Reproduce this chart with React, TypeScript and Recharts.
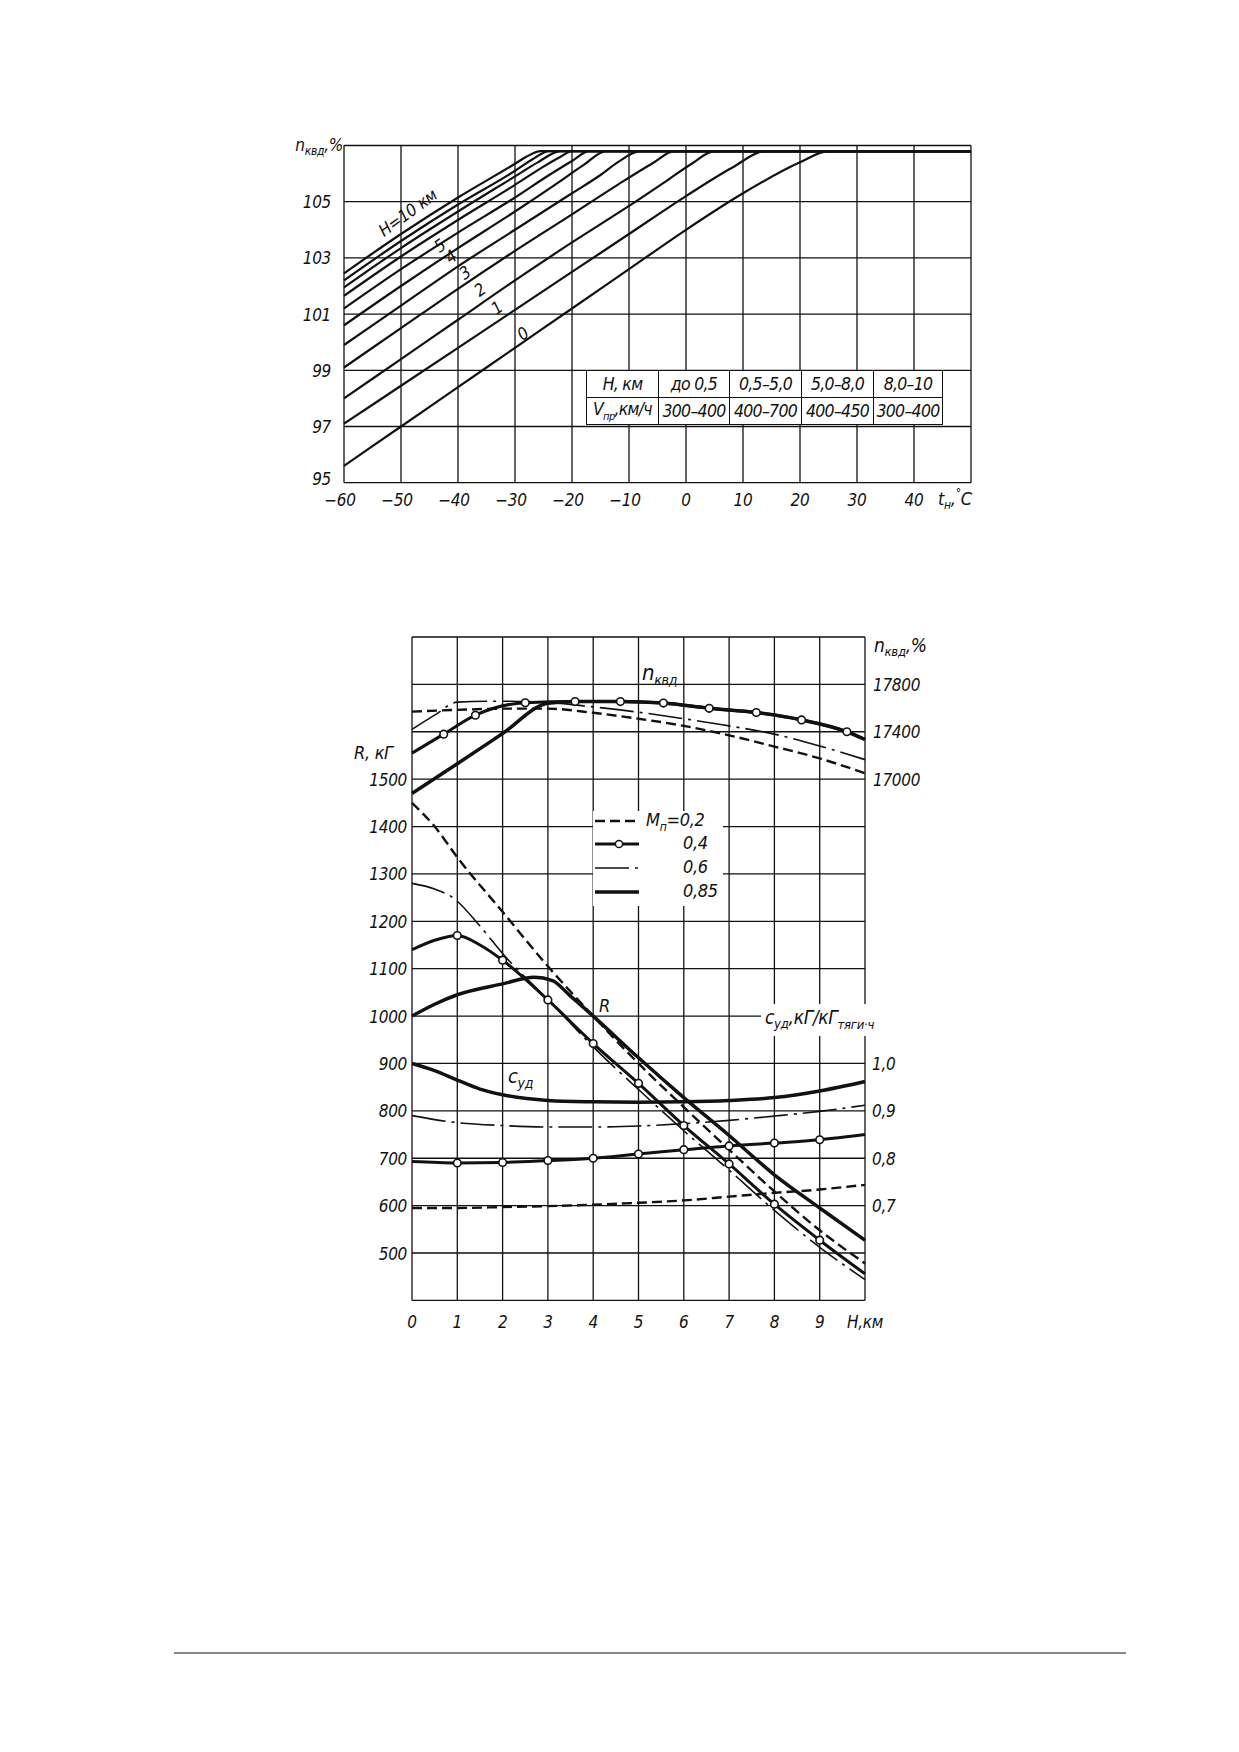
import React from "react";
import { LineChart, Line, XAxis, YAxis, CartesianGrid } from "recharts";

const FONT = "'DejaVu Sans Condensed', 'DejaVu Sans', sans-serif";
const INK = "#111";

// ---- upper chart: n_kvd vs outside air temperature, one curve per altitude ----
const TEMP_TICKS = [-60, -50, -40, -30, -20, -10, 0, 10, 20, 30, 40, 50];
const NKVD_TICKS = [95, 97, 99, 101, 103, 105, 107];

const H0 = [[-60, 95.6], [-50, 97.0], [-40, 98.4], [-30, 99.8], [-20, 101.2], [-10, 102.6], [0, 104.0], [10, 105.3], [20, 106.4], [25, 106.8], [50, 106.8]];
const H1 = [[-60, 97.1], [-50, 98.45], [-40, 99.8], [-30, 101.15], [-20, 102.5], [-10, 103.85], [0, 105.2], [8, 106.2], [14, 106.8], [50, 106.8]];
const H2 = [[-60, 98.0], [-50, 99.4], [-40, 100.8], [-30, 102.2], [-20, 103.55], [-10, 104.85], [-3, 105.8], [1, 106.35], [5, 106.8], [50, 106.8]];
const H3 = [[-60, 99.1], [-50, 100.5], [-40, 101.9], [-30, 103.25], [-20, 104.55], [-12, 105.6], [-6, 106.35], [-2, 106.8], [50, 106.8]];
const H4 = [[-60, 99.9], [-50, 101.3], [-40, 102.7], [-30, 104.0], [-20, 105.3], [-15, 105.95], [-12, 106.4], [-8, 106.8], [50, 106.8]];
const H5 = [[-60, 100.6], [-50, 102.0], [-40, 103.35], [-30, 104.65], [-23, 105.6], [-18, 106.3], [-14, 106.8], [50, 106.8]];
const H6 = [[-60, 101.2], [-50, 102.6], [-40, 103.9], [-30, 105.15], [-24, 105.95], [-20, 106.45], [-17, 106.8], [50, 106.8]];
const H7 = [[-60, 101.65], [-50, 103.05], [-40, 104.35], [-30, 105.6], [-25, 106.25], [-22, 106.6], [-20, 106.8], [50, 106.8]];
const H8 = [[-60, 101.95], [-50, 103.35], [-40, 104.65], [-30, 105.9], [-26, 106.4], [-22, 106.8], [50, 106.8]];
const H9 = [[-60, 102.2], [-50, 103.6], [-40, 104.9], [-30, 106.1], [-27, 106.5], [-24, 106.8], [50, 106.8]];
const H10 = [[-60, 102.45], [-50, 103.85], [-40, 105.15], [-30, 106.35], [-28, 106.6], [-25.5, 106.8], [50, 106.8]];
const ALT_CURVES = [H0, H1, H2, H3, H4, H5, H6, H7, H8, H9, H10];

const TABLE_H = ["H, км", "до 0,5", "0,5–5,0", "5,0–8,0", "8,0–10"];
const TABLE_V = ["300–400", "400–700", "400–450", "300–400"];

// ---- lower chart: altitude characteristics for several flight Mach numbers ----
const ALT_TICKS = [0, 1, 2, 3, 4, 5, 6, 7, 8, 9, 10];
const R_TICKS = [400, 500, 600, 700, 800, 900, 1000, 1100, 1200, 1300, 1400, 1500, 1600, 1700, 1800];
const N_TICKS = [17000, 17400, 17800, 18200];
const C_TICKS = [0.7, 0.8, 0.9, 1.0, 1.1];

const R_M02 = [[0, 1450], [0.5, 1400], [1, 1335], [2, 1220], [3, 1105], [4, 1000], [5, 900], [6, 808], [7, 718], [8, 630], [9, 548], [10, 478]];
const R_M04 = [[0, 1140], [0.5, 1160], [1, 1170], [1.5, 1150], [2, 1118], [3, 1034], [4, 942], [5, 858], [6, 769], [7, 688], [8, 603], [9, 527], [10, 456]];
const R_M06 = [[0, 1280], [0.5, 1268], [0.9, 1250], [1.5, 1190], [2, 1132], [3, 1035], [4, 935], [5, 845], [6, 758], [7, 675], [8, 590], [9, 512], [10, 444]];
const R_M085 = [[0, 1000], [0.5, 1025], [1, 1045], [2, 1068], [2.7, 1082], [3.1, 1075], [3.5, 1042], [4, 1000], [5, 912], [6, 828], [7, 748], [8, 665], [9, 595], [10, 527]];

const N_M02 = [[0, 17570], [1, 17585], [2, 17595], [3, 17595], [4, 17560], [5, 17510], [6, 17450], [7, 17370], [8, 17275], [9, 17175], [10, 17050]];
const N_M04 = [[0, 17220], [0.7, 17380], [1.4, 17540], [2.5, 17645], [3.6, 17655], [4.6, 17655], [5.55, 17642], [6.56, 17598], [7.6, 17562], [8.6, 17500], [9.6, 17400], [10, 17335]];
const N_M06 = [[0, 17420], [0.5, 17540], [1, 17650], [2, 17658], [3, 17648], [4, 17610], [5, 17565], [6, 17510], [7, 17450], [8, 17380], [9, 17280], [10, 17165]];
const N_M085 = [[0, 16880], [1, 17130], [2, 17385], [3, 17640], [3.6, 17655], [4.6, 17655], [5.55, 17642], [6.56, 17598], [7.6, 17562], [8.6, 17500], [9.6, 17400], [10, 17335]];

const C_M02 = [[0, 0.695], [1, 0.695], [2, 0.697], [3, 0.699], [4, 0.702], [5, 0.706], [6, 0.711], [7, 0.719], [8, 0.727], [9, 0.734], [10, 0.744]];
const C_M04 = [[0, 0.793], [1, 0.79], [2, 0.791], [3, 0.795], [4, 0.8], [5, 0.809], [6, 0.818], [7, 0.826], [8, 0.832], [9, 0.839], [10, 0.85]];
const C_M06 = [[0, 0.89], [1, 0.875], [2, 0.869], [3, 0.866], [4, 0.866], [5, 0.868], [6, 0.873], [7, 0.88], [8, 0.889], [9, 0.899], [10, 0.912]];
const C_M085 = [[0, 1.0], [0.5, 0.985], [1, 0.965], [1.5, 0.946], [2, 0.934], [3, 0.922], [4, 0.919], [5, 0.918], [6, 0.919], [7, 0.922], [8, 0.928], [9, 0.942], [10, 0.962]];

const MACH = [
  { label: "0,85", R: R_M085, n: N_M085, c: C_M085, width: 3.5, dash: undefined, marks: false },
  { label: "0,6", R: R_M06, n: N_M06, c: C_M06, width: 1.6, dash: "34 6 3 6", marks: false },
  { label: "0,2", R: R_M02, n: N_M02, c: C_M02, width: 2.4, dash: "10 5", marks: false },
  { label: "0,4", R: R_M04, n: N_M04, c: C_M04, width: 3.0, dash: undefined, marks: true },
];

const pts = (pairs: number[][]) => pairs.map(([x, v]) => ({ x, v }));

const txt = { fontFamily: FONT, fontStyle: "italic", fontStretch: "condensed", fill: INK, letterSpacing: -0.3 } as const;

// open circles on the M=0,4 curves
function markDot(integerOnly: boolean, count: number) {
  return (p: any) => {
    const h = p.payload.x;
    const show = integerOnly ? Number.isInteger(h) && h > 0 && h < 10 : p.index > 0 && p.index < count - 1;
    if (!show) return <g key={p.index} />;
    return <circle key={p.index} cx={p.cx} cy={p.cy} r={3.8} fill="#fff" stroke={INK} strokeWidth={1.6} />;
  };
}

function TopXTick(props: any) {
  const { x, y, payload } = props;
  const v = payload.value as number;
  if (v === 50) {
    return (
      <text x={x - 33} y={y + 22} fontSize={18} {...txt}>
        t<tspan fontSize={12} dy={4}>н</tspan><tspan dy={-4}>,</tspan>
        <tspan fontSize={12} dy={-8}>°</tspan><tspan dy={8}>C</tspan>
      </text>
    );
  }
  return (
    <text x={x + (v < 0 ? -4 : 0)} y={y + 23} textAnchor="middle" fontSize={17} {...txt}>
      {v < 0 ? `−${-v}` : v}
    </text>
  );
}

function TopYTick(props: any) {
  const { x, y, payload } = props;
  const v = payload.value as number;
  if (v === 107) {
    return (
      <text x={x - 1} y={y + 5} textAnchor="end" fontSize={17} {...txt}>
        n<tspan fontSize={12} dy={4}>квд</tspan><tspan dy={-4}>,%</tspan>
      </text>
    );
  }
  return <text x={x - 13} y={y + (v === 95 ? 2 : 6.5)} textAnchor="end" fontSize={17} {...txt}>{v}</text>;
}

function AltTick(props: any) {
  const { x, y, payload } = props;
  const v = payload.value as number;
  return (
    <text x={x} y={y + 28} textAnchor="middle" fontSize={17} {...txt}>
      {v === 10 ? "H,км" : v}
    </text>
  );
}

function RTick(props: any) {
  const { x, y, payload } = props;
  const v = payload.value as number;
  if (v < 500 || v > 1500) return <g />;
  return <text x={x - 5} y={y + 6.5} textAnchor="end" fontSize={17} {...txt}>{v}</text>;
}

function NTick(props: any) {
  const { x, y, payload } = props;
  const v = payload.value as number;
  if (v === 18200) {
    return (
      <text x={x + 8} y={y + 15} fontSize={19} {...txt}>
        n<tspan fontSize={13} dy={4}>квд</tspan><tspan dy={-4}>,%</tspan>
      </text>
    );
  }
  return <text x={x + 7} y={y + 6.5} fontSize={17} {...txt}>{v}</text>;
}

function CTick(props: any) {
  const { x, y, payload } = props;
  const v = payload.value as number;
  if (v > 1.05) {
    return (
      <g>
        <rect x={x - 104} y={y - 12} width={220} height={32} fill="#fff" />
        <text x={x - 100} y={y + 8} fontSize={19} {...txt}>
          c<tspan fontSize={13} dy={4}>уд</tspan><tspan dy={-4}>,кГ/кГ</tspan>
          <tspan fontSize={13} dy={5}>тяги·ч</tspan>
        </text>
      </g>
    );
  }
  return <text x={x + 7} y={y + 6.5} fontSize={17} {...txt}>{v.toFixed(1).replace(".", ",")}</text>;
}

function TopChart() {
  return (
    <LineChart width={1239} height={560} margin={{ top: 145.5, right: 268, bottom: 76.3, left: 343 }}>
      <CartesianGrid stroke={INK} strokeWidth={1.3} xAxisId="t" yAxisId="n" />
      <XAxis xAxisId="t" dataKey="x" type="number" domain={[-60, 50]} ticks={TEMP_TICKS} interval={0}
        height={1} tickSize={0} tickMargin={0} axisLine={false} tick={(p: any) => <TopXTick {...p} />} />
      <YAxis yAxisId="n" type="number" domain={[95, 107]} ticks={NKVD_TICKS} interval={0}
        width={1} tickSize={0} tickMargin={0} axisLine={false} tick={(p: any) => <TopYTick {...p} />} />
      {ALT_CURVES.map((c, i) => (
        <Line key={i} xAxisId="t" yAxisId="n" data={pts(c)} dataKey="v" type="monotone"
          stroke={INK} strokeWidth={2.2} dot={false} isAnimationActive={false} />
      ))}
    </LineChart>
  );
}

function BottomChart() {
  return (
    <LineChart width={1239} height={820} margin={{ top: 77, right: 372, bottom: 78.6, left: 411 }}>
      <CartesianGrid stroke={INK} strokeWidth={1.3} xAxisId="h" yAxisId="R" />
      <XAxis xAxisId="h" dataKey="x" type="number" domain={[0, 10]} ticks={ALT_TICKS} interval={0}
        height={1} tickSize={0} tickMargin={0} axisLine={false} tick={(p: any) => <AltTick {...p} />} />
      <YAxis yAxisId="R" type="number" domain={[400, 1800]} ticks={R_TICKS} interval={0}
        width={1} tickSize={0} tickMargin={0} axisLine={false} tick={(p: any) => <RTick {...p} />} />
      <YAxis yAxisId="n" orientation="right" type="number" domain={[12600, 18200]} ticks={N_TICKS} interval={0}
        width={1} tickSize={0} tickMargin={0} axisLine={false} tick={(p: any) => <NTick {...p} />} />
      <YAxis yAxisId="c" orientation="right" type="number" domain={[0.5, 1.9]} ticks={C_TICKS} interval={0}
        width={1} tickSize={0} tickMargin={0} axisLine={false} tick={(p: any) => <CTick {...p} />} />
      {MACH.flatMap((m) => [
        <Line key={`R${m.label}`} xAxisId="h" yAxisId="R" data={pts(m.R)} dataKey="v" type="monotone"
          stroke={INK} strokeWidth={m.width} strokeDasharray={m.dash}
          dot={m.marks ? markDot(true, m.R.length) : false} isAnimationActive={false} />,
        <Line key={`n${m.label}`} xAxisId="h" yAxisId="n" data={pts(m.n)} dataKey="v" type="monotone"
          stroke={INK} strokeWidth={m.width} strokeDasharray={m.dash}
          dot={m.marks ? markDot(false, m.n.length) : false} isAnimationActive={false} />,
        <Line key={`c${m.label}`} xAxisId="h" yAxisId="c" data={pts(m.c)} dataKey="v" type="monotone"
          stroke={INK} strokeWidth={m.width} strokeDasharray={m.dash}
          dot={m.marks ? markDot(true, m.c.length) : false} isAnimationActive={false} />,
      ])}
    </LineChart>
  );
}

const abs = (left: number, top: number): React.CSSProperties => ({
  position: "absolute", left, top, fontFamily: FONT, fontStyle: "italic", fontStretch: "condensed",
  color: INK, lineHeight: 1, whiteSpace: "nowrap", letterSpacing: -0.3,
});

const CURVE_LABELS = [
  { text: "H=10 км", x: 408, y: 213 },
  { text: "5", x: 440, y: 246 },
  { text: "4", x: 451, y: 257 },
  { text: "3", x: 465, y: 273 },
  { text: "2", x: 480, y: 290 },
  { text: "1", x: 497, y: 308 },
  { text: "0", x: 523, y: 334 },
];

function LegendSample({ dash, width, marks }: { dash?: string; width: number; marks: boolean }) {
  return (
    <svg width={48} height={14} style={{ position: "absolute", left: 0, top: -7 }}>
      <line x1={2} y1={7} x2={46} y2={7} stroke={INK} strokeWidth={width} strokeDasharray={dash} />
      {marks && <circle cx={26} cy={7} r={3.6} fill="#fff" stroke={INK} strokeWidth={1.5} />}
    </svg>
  );
}

const LEGEND_ORDER = ["0,2", "0,4", "0,6", "0,85"];
const LEGEND_ROWS = [10, 33, 57, 81];

export default function App() {
  const cell: React.CSSProperties = {
    border: `1.4px solid ${INK}`, padding: 0, textAlign: "center", height: 26, fontSize: 17.5,
    whiteSpace: "nowrap", overflow: "hidden", letterSpacing: -0.7,
  };
  return (
    <div style={{ position: "absolute", left: 0, top: 0, width: 1239, height: 1752, background: "#fff" }}>
      <div style={{ position: "absolute", left: 0, top: 0 }}>
        <TopChart />
      </div>

      {CURVE_LABELS.map((l) => (
        <div key={l.text} style={{ ...abs(l.x, l.y), fontSize: 17, transform: "translate(-50%, -50%) rotate(-36deg)" }}>
          {l.text}
        </div>
      ))}

      <table style={{ position: "absolute", left: 586, top: 370, width: 356, tableLayout: "fixed", borderCollapse: "collapse",
        background: "#fff", fontFamily: FONT, fontStyle: "italic", fontStretch: "condensed", color: INK }}>
        <colgroup>
          <col style={{ width: 72 }} />
          <col style={{ width: 71 }} />
          <col style={{ width: 72 }} />
          <col style={{ width: 72 }} />
          <col style={{ width: 69 }} />
        </colgroup>
        <tbody>
          <tr>
            {TABLE_H.map((t, i) => (
              <td key={i} style={cell}>{t}</td>
            ))}
          </tr>
          <tr>
            <td style={cell}>V<sub style={{ fontSize: 11 }}>пр</sub>,км/ч</td>
            {TABLE_V.map((t, i) => (
              <td key={i} style={cell}>{t}</td>
            ))}
          </tr>
        </tbody>
      </table>

      <div style={{ position: "absolute", left: 0, top: 560 }}>
        <BottomChart />
      </div>

      <div style={{ ...abs(354, 744), fontSize: 18 }}>R, кГ</div>
      <div style={{ ...abs(642, 662), fontSize: 22 }}>
        n<sub style={{ fontSize: 14 }}>квд</sub>
      </div>
      <div style={{ ...abs(599, 997), fontSize: 18 }}>R</div>
      <div style={{ ...abs(508, 1066), fontSize: 20 }}>
        c<sub style={{ fontSize: 14 }}>уд</sub>
      </div>

      <div style={{ position: "absolute", left: 593, top: 811, width: 130, height: 95, background: "#fff" }}>
        {LEGEND_ORDER.map((lab, i) => {
          const m = MACH.find((s) => s.label === lab)!;
          return (
            <div key={lab} style={{ position: "absolute", left: 0, top: LEGEND_ROWS[i], width: 130 }}>
              <LegendSample dash={m.dash} width={m.width} marks={m.marks} />
              {i === 0 ? (
                <div style={{ ...abs(53, -10), fontSize: 18 }}>
                  M<sub style={{ fontSize: 12 }}>п</sub>=0,2
                </div>
              ) : (
                <div style={{ ...abs(90, -10), fontSize: 18 }}>{lab}</div>
              )}
            </div>
          );
        })}
      </div>

      <div style={{ position: "absolute", left: 174, top: 1652, width: 952, height: 2, background: "#888" }} />
    </div>
  );
}
